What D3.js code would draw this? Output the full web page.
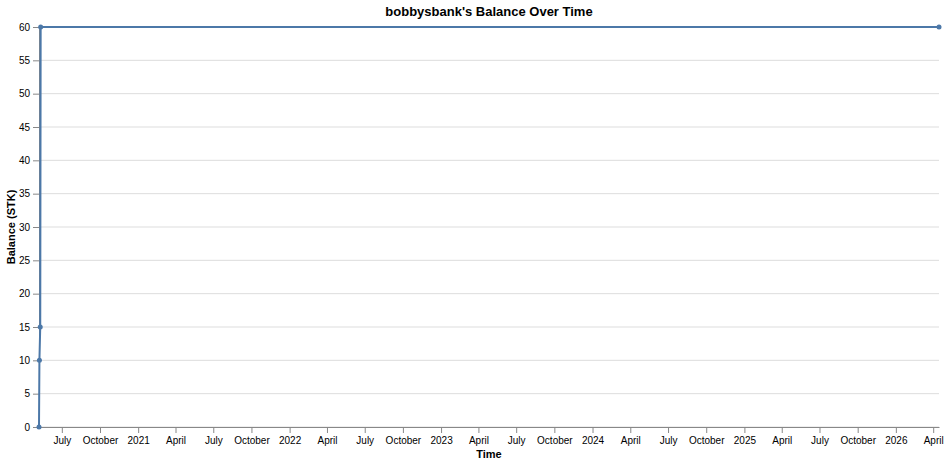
<!DOCTYPE html>
<html>
<head>
<meta charset="utf-8">
<script src="https://cdn.jsdelivr.net/npm/d3@7"></script>
<style>
body { margin: 0; background: #fff; }
text { font-family: "Liberation Sans", Arial, sans-serif; }
</style>
</head>
<body>
<svg id="chart" width="949" height="464"></svg>
<script>
// balance history
var dates = ["2020-05-07", "2020-05-08", "2020-05-10", "2020-05-11", "2026-04-15"];
var balances = [0, 10, 15, 60, 60];
var yTicks = [0, 5, 10, 15, 20, 25, 30, 35, 40, 45, 50, 55, 60];

var parse = d3.timeParse("%Y-%m-%d");
var data = dates.map(function(d, i) { return { date: parse(d), value: balances[i] }; });

var margin = { top: 27, left: 39, right: 10, bottom: 37 };
var width = 949 - margin.left - margin.right,
    height = 464 - margin.top - margin.bottom;

var svg = d3.select("#chart");
var g = svg.append("g").attr("transform", "translate(" + margin.left + "," + margin.top + ")");

var x = d3.scaleTime().domain(d3.extent(data, function(d) { return d.date; })).range([0, width]);
var y = d3.scaleLinear().domain([0, 60]).range([height, 0]);

// grid
g.selectAll(".grid").data(yTicks).enter().append("line")
    .attr("x1", 0).attr("x2", width)
    .attr("y1", function(d) { return y(d); }).attr("y2", function(d) { return y(d); })
    .attr("stroke", "#ddd");

var fmt = function(d) {
    return d.getMonth() === 0 ? d3.timeFormat("%Y")(d) : d3.timeFormat("%B")(d);
};

var xAxis = g.append("g").attr("transform", "translate(0," + height + ")")
    .call(d3.axisBottom(x).ticks(d3.timeMonth.every(3)).tickFormat(fmt).tickSizeOuter(0).tickPadding(4));
var yAxis = g.append("g")
    .call(d3.axisLeft(y).tickValues(yTicks).tickSizeOuter(0).tickPadding(3));

[xAxis, yAxis].forEach(function(a) {
    a.selectAll("path, line").attr("stroke", "#888");
    a.selectAll("text").attr("fill", "#000").style("font-size", "10px")
        .style("font-family", "'Liberation Sans', Arial, sans-serif");
});

var line = d3.line().x(function(d) { return x(d.date); }).y(function(d) { return y(d.value); });
g.append("path").datum(data).attr("d", line)
    .attr("fill", "none").attr("stroke", "#4c78a8").attr("stroke-width", 2);

g.selectAll(".pt").data(data).enter().append("circle")
    .attr("cx", function(d) { return x(d.date); })
    .attr("cy", function(d) { return y(d.value); })
    .attr("r", 2.5).attr("fill", "#4c78a8");

svg.append("text").attr("x", 489).attr("y", 16).attr("text-anchor", "middle")
    .style("font-size", "13px").style("font-weight", "bold").text("bobbysbank's Balance Over Time");
svg.append("text").attr("x", margin.left + width / 2).attr("y", 458).attr("text-anchor", "middle")
    .style("font-size", "11px").style("font-weight", "bold").text("Time");
svg.append("text").attr("transform", "translate(15," + (margin.top + height / 2) + ") rotate(-90)")
    .attr("text-anchor", "middle")
    .style("font-size", "11px").style("font-weight", "bold").text("Balance (STK)");
</script>
</body>
</html>
